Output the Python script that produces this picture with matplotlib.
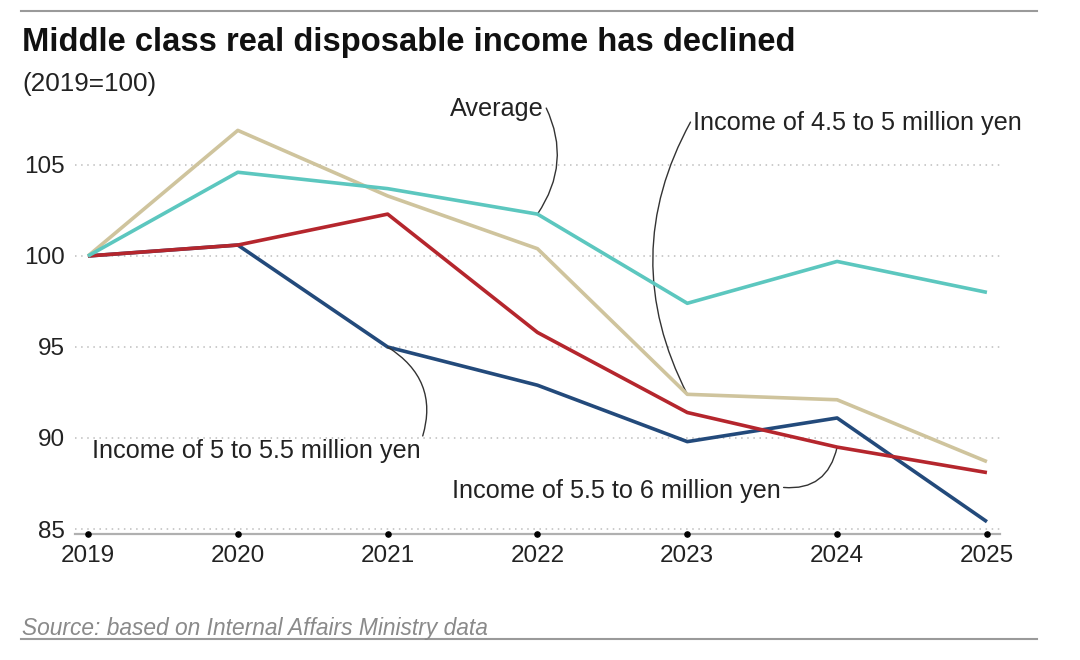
import matplotlib
matplotlib.use("Agg")
from matplotlib import pyplot as plt

plt.rcParams['font.family'] = ['Liberation Sans', 'DejaVu Sans']

years = [2019, 2020, 2021, 2022, 2023, 2024, 2025]
average = [100, 104.6, 103.7, 102.3, 97.4, 99.7, 98.0]
inc_45_5 = [100, 106.9, 103.3, 100.4, 92.4, 92.1, 88.7]
inc_5_55 = [100, 100.6, 95.0, 92.9, 89.8, 91.1, 85.4]
inc_55_6 = [100, 100.6, 102.3, 95.8, 91.4, 89.5, 88.1]
yticks = [85, 90, 95, 100, 105]

fig = plt.figure(figsize=(10.8, 6.6), dpi=100)
ax = fig.add_axes([0.0694, 0.1909, 0.8565, 0.6576])

ax.plot(years, inc_5_55, color="#234a7b", lw=2.6, solid_capstyle="butt", zorder=3)
ax.plot(years, inc_55_6, color="#b5262d", lw=2.6, solid_capstyle="butt", zorder=4)
ax.plot(years, inc_45_5, color="#cfc49d", lw=2.6, solid_capstyle="butt", zorder=5)
ax.plot(years, average, color="#5cc7bf", lw=2.6, solid_capstyle="butt", zorder=6)

ax.set_xlim(2018.913, 2025.087)
ax.set_ylim(84.725, 108.57)
ax.set_xticks(years)
ax.set_xticklabels([str(y) for y in years])
ax.set_yticks(yticks)
ax.tick_params(axis="both", length=0, labelsize=17.5, colors="#222222")
ax.tick_params(axis="x", pad=8)
ax.tick_params(axis="y", pad=7)
ax.grid(axis="y", color="#bdbdbd", linestyle=(0, (1, 3)), lw=1.1)
ax.set_axisbelow(True)
for s in ["top", "right", "left"]:
    ax.spines[s].set_visible(False)
ax.spines["bottom"].set_color("#b0b0b0")
ax.spines["bottom"].set_linewidth(1.6)

# dots on axis line
ax.scatter(years, [0] * len(years), s=14, color="black", zorder=7,
           transform=ax.get_xaxis_transform(), clip_on=False)

# labels with curved leaders
arr = dict(arrowstyle="-", color="#333333", lw=1.0, shrinkA=0, shrinkB=0)
ax.annotate("Average", xy=(2022, average[3]), xytext=(2022.04, 108.1),
            ha="right", va="center", fontsize=18.2, color="#222222",
            arrowprops=dict(arr, relpos=(1, 0.75), connectionstyle="arc3,rad=-0.3"))
ax.annotate("Income of 4.5 to 5 million yen", xy=(2023, inc_45_5[4]),
            xytext=(2023.04, 107.3), ha="left", va="center", fontsize=18.2,
            color="#222222",
            arrowprops=dict(arr, relpos=(0, 0.75), connectionstyle="arc3,rad=0.27"))
ax.annotate("Income of 5 to 5.5 million yen", xy=(2021, inc_5_55[2]),
            xytext=(2019.027, 89.3), ha="left", va="center", fontsize=18.2,
            color="#222222",
            arrowprops=dict(arr, relpos=(1.0, 0.85), connectionstyle="arc3,rad=0.4"))
ax.annotate("Income of 5.5 to 6 million yen", xy=(2024, inc_55_6[5]),
            xytext=(2021.43, 87.1), ha="left", va="center", fontsize=18.2,
            color="#222222",
            arrowprops=dict(arr, relpos=(1.0, 0.65), connectionstyle="arc3,rad=0.45"))

fig.text(22 / 1080, 1 - 42 / 660, "Middle class real disposable income has declined",
         fontsize=23.6, fontweight="bold", va="center", ha="left", color="#111111")
fig.text(22 / 1080, 1 - 84 / 660, "(2019=100)", fontsize=18.8, va="center", ha="left",
         color="#222222")
fig.text(22 / 1080, 1 - 628 / 660, "Source: based on Internal Affairs Ministry data",
         fontsize=16.4, style="italic", va="center", ha="left", color="#8a8a8a")

fig.add_artist(plt.Line2D([21 / 1080, 1037 / 1080], [1 - 11 / 660, 1 - 11 / 660],
                          color="#9a9a9a", lw=1.5))
fig.add_artist(plt.Line2D([21 / 1080, 1037 / 1080], [1 - 639 / 660, 1 - 639 / 660],
                          color="#9a9a9a", lw=1.5))

fig.savefig("out.png", dpi=100, facecolor="white")
